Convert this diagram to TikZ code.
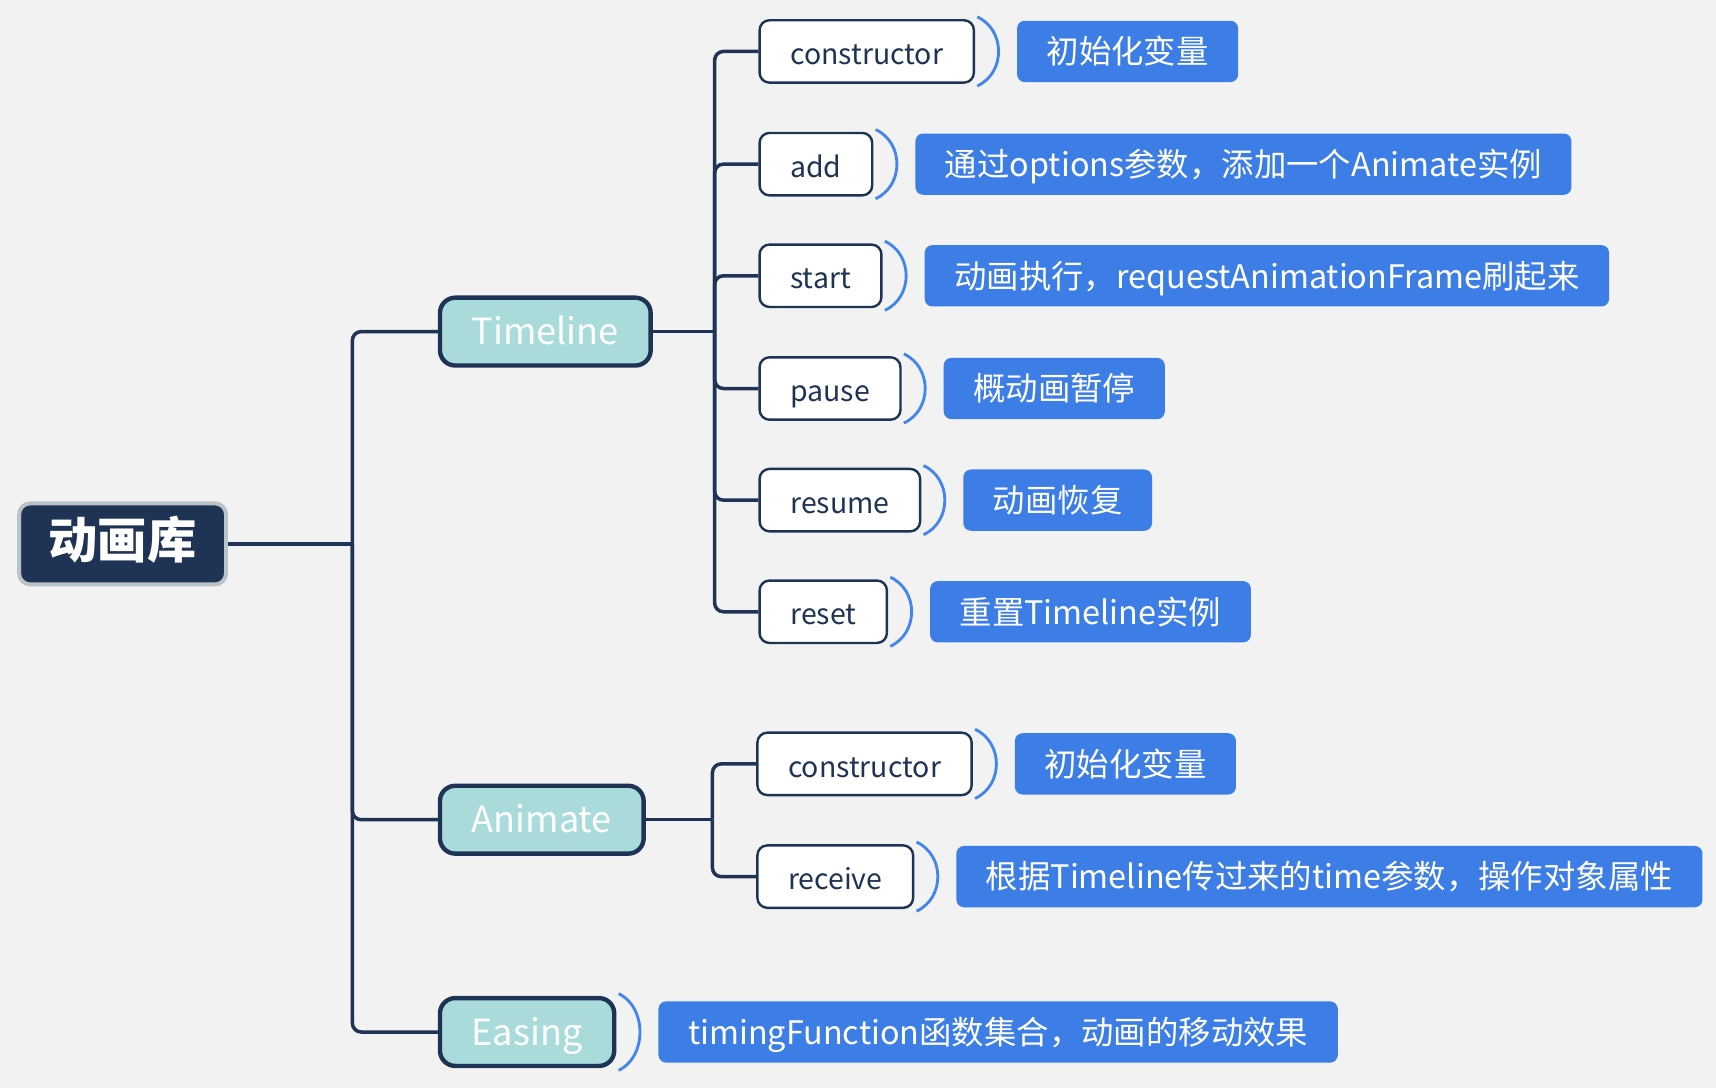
\documentclass[tikz,border=0pt]{standalone}
\usepackage{fontspec}
\setmainfont{Noto Sans CJK SC}
\usetikzlibrary{positioning}
\definecolor{navy}{HTML}{1F3355}
\definecolor{tealbox}{HTML}{A8DBDA}
\definecolor{notecol}{HTML}{3C7DE6}
\definecolor{brk}{HTML}{4285EE}
\definecolor{paper}{HTML}{F2F2F2}
\definecolor{rim}{HTML}{BAC3C7}
\tikzset{
  conn/.style={draw=navy, line width=1.6pt, rounded corners=4pt},
  root/.style={fill=navy, draw=rim, line width=1.8pt, rounded corners=5pt, text=white,
    font=\fontsize{22.5}{26}\selectfont\bfseries, minimum width=94.5pt, minimum height=37pt,
    text height=1.35em, text depth=0em},
  topic/.style={anchor=west, fill=tealbox, draw=navy, line width=2pt, rounded corners=7pt, text=white,
    font=\fontsize{16.5}{20}\selectfont, minimum height=31pt, inner xsep=14.5pt,
    text height=1.2em, text depth=0em},
  leaf/.style={anchor=west, fill=white, draw=navy, line width=1.1pt, rounded corners=4.5pt, text=navy,
    font=\fontsize{13}{16}\selectfont, minimum height=28.5pt, inner xsep=14pt,
    text height=1.2em, text depth=0em},
  note/.style={fill=notecol, rounded corners=3.5pt, text=white,
    font=\fontsize{14.8}{17}\selectfont, minimum height=28pt, inner xsep=13.5pt,
    text height=1.12em, text depth=0em},
  brace/.style={draw=brk, line width=1.3pt}
}

\begin{document}
\begin{tikzpicture}[x=0.5pt, y=-0.5pt]
  \fill[paper] (0,0) rectangle (1568,994);
  \useasboundingbox (0,0) rectangle (1568,994);
  % root, topics and hubs
  \node[root] (lib) at (112,497) {动画库};
  \coordinate (hub) at (322,497);
  \coordinate (tlhub) at (653,303);
  \coordinate (anhub) at (651,749);
  \node[topic] (tl) at (400,303) {Timeline};
  \node[topic] (an) at (400,749) {Animate};
  \node[topic] (ea) at (400,943) {Easing};
  \draw[conn] (lib.east) -- (hub);
  \foreach \t in {tl,an,ea} \draw[conn] (hub) |- (\t.west);
  \draw[conn] (tl.east) -- (tlhub);
  \draw[conn] (an.east) -- (anhub);
  % Timeline
  \foreach \nm/\txt/\yy/\lab in {tc/constructor/47/初始化变量,
      ta/add/150/通过options参数，添加一个Animate实例,
      ts/start/252/动画执行，requestAnimationFrame刷起来,
      tp/pause/355/概动画暂停,
      tr/resume/457/动画恢复,
      tx/reset/559/重置Timeline实例} {
    \node[leaf] (\nm) at (693,\yy) {\txt};
    \draw[conn] (tlhub) |- (\nm.west);
    \draw[brace] ([shift={(2,-2)}]\nm.north east) .. controls +(26,12) and +(26,-12) .. ([shift={(2,2)}]\nm.south east);
    \node[note, right=19pt of \nm] (n\nm) {\lab};
  }
  % Animate
  \foreach \nm/\txt/\yy/\lab in {ac/constructor/698/初始化变量,
      ar/receive/801/根据Timeline传过来的time参数，操作对象属性} {
    \node[leaf] (\nm) at (691,\yy) {\txt};
    \draw[conn] (anhub) |- (\nm.west);
    \draw[brace] ([shift={(2,-2)}]\nm.north east) .. controls +(26,12) and +(26,-12) .. ([shift={(2,2)}]\nm.south east);
    \node[note, right=19pt of \nm] (n\nm) {\lab};
  }
  % Easing
  \draw[brace] ([shift={(2,-2)}]ea.north east) .. controls +(26,12) and +(26,-12) .. ([shift={(2,2)}]ea.south east);
  \node[note, right=19pt of ea] (nea) {timingFunction函数集合，动画的移动效果};
\end{tikzpicture}
\end{document}
